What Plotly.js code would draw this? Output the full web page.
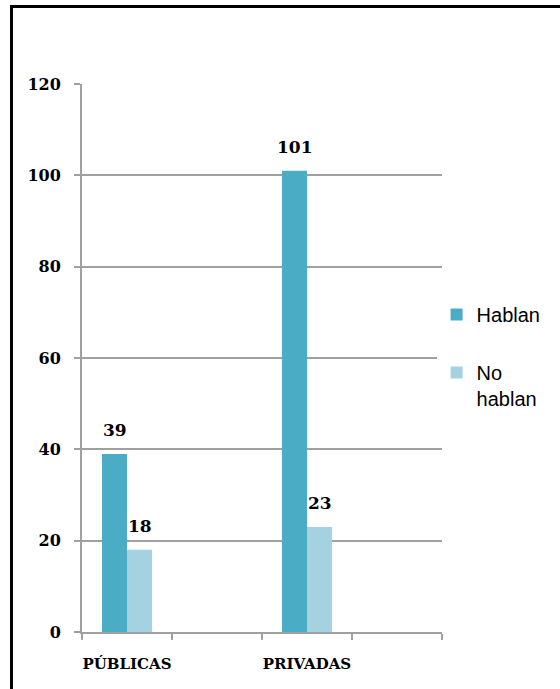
<!DOCTYPE html>
<html>
<head>
<meta charset="utf-8">
<script src="https://cdn.plot.ly/plotly-3.0.1.min.js"></script>
<style>
  html, body { margin: 0; padding: 0; background: #ffffff; }
  #wrap { position: relative; width: 560px; height: 689px; overflow: hidden; }
  #chart { position: absolute; left: 0; top: 0; width: 560px; height: 689px; }
  #frame { position: absolute; left: 10px; top: 5px; width: 700px; height: 800px;
           border-top: 3px solid #000; border-left: 3px solid #000; pointer-events: none; z-index: 5; }
</style>
</head>
<body>
<div id="wrap">
  <div id="chart"></div>
  <div id="frame"></div>
</div>
<script>
// Data
const categories = ["PÚBLICAS", "PRIVADAS"];
const axisSlots = ["PÚBLICAS", " ", "PRIVADAS", "  "];
const seriesNames = ["Hablan", "No<br>hablan"];
const hablan = [39, 101];
const noHablan = [18, 23];
const yTicks = [0, 20, 40, 60, 80, 100, 120];

const colors = ["#4BACC6", "#A5D2E0"];
const serif = "DejaVu Serif, Liberation Serif, serif";

const traces = [
  { type: "bar", name: seriesNames[0], x: categories, y: hablan,
    marker: { color: colors[0] }, legendgroup: "a", hoverinfo: "skip" },
  { type: "bar", name: seriesNames[1], x: categories, y: noHablan,
    marker: { color: colors[1] }, legendgroup: "b", hoverinfo: "skip" }
];

const annotations = [];
[hablan, noHablan].forEach((vals, si) => {
  vals.forEach((v, i) => {
    annotations.push({
      x: categories[i], y: v, xref: "x", yref: "y",
      text: String(v), showarrow: false,
      xshift: si === 0 ? -12.5 : 12.5, yshift: 12, yanchor: "bottom",
      font: { family: serif, size: 17, color: "#000", weight: "bold" }
    });
  });
});

const layout = {
  width: 560, height: 689,
  margin: { l: 82, r: 118, t: 84, b: 57, autoexpand: false },
  paper_bgcolor: "#ffffff", plot_bgcolor: "#ffffff",
  barmode: "group", bargap: 0.444, bargroupgap: 0,
  showlegend: true,
  legend: { x: 0.985, xanchor: "left", y: 0.615, yanchor: "top",
            font: { family: "Liberation Sans, Arial, sans-serif", size: 20, color: "#000" },
            valign: "top", tracegroupgap: 29, traceorder: "grouped" },
  xaxis: {
    type: "category", categoryorder: "array", categoryarray: axisSlots,
    range: [-0.5, 3.5], tickson: "boundaries", tickangle: 0,
    showline: true, linecolor: "#A0A0A0", linewidth: 2,
    ticks: "outside", ticklen: 6, tickcolor: "#A0A0A0", tickwidth: 2,
    showgrid: false, zeroline: false, ticklabelstandoff: 17,
    tickfont: { family: serif, size: 15, color: "#000", weight: "bold" }
  },
  yaxis: {
    range: [0, 120], tickvals: yTicks, ticktext: yTicks.map(String),
    showline: true, linecolor: "#A0A0A0", linewidth: 2,
    ticks: "outside", ticklen: 6, tickcolor: "#A0A0A0", tickwidth: 2,
    showgrid: true, gridcolor: "#A0A0A0", gridwidth: 2, zeroline: false,
    ticklabelstandoff: 10,
    tickfont: { family: serif, size: 16, color: "#000", weight: "bold" }
  },
  annotations: annotations
};

Plotly.newPlot("chart", traces, layout, { staticPlot: true, displayModeBar: false });
</script>
</body>
</html>
